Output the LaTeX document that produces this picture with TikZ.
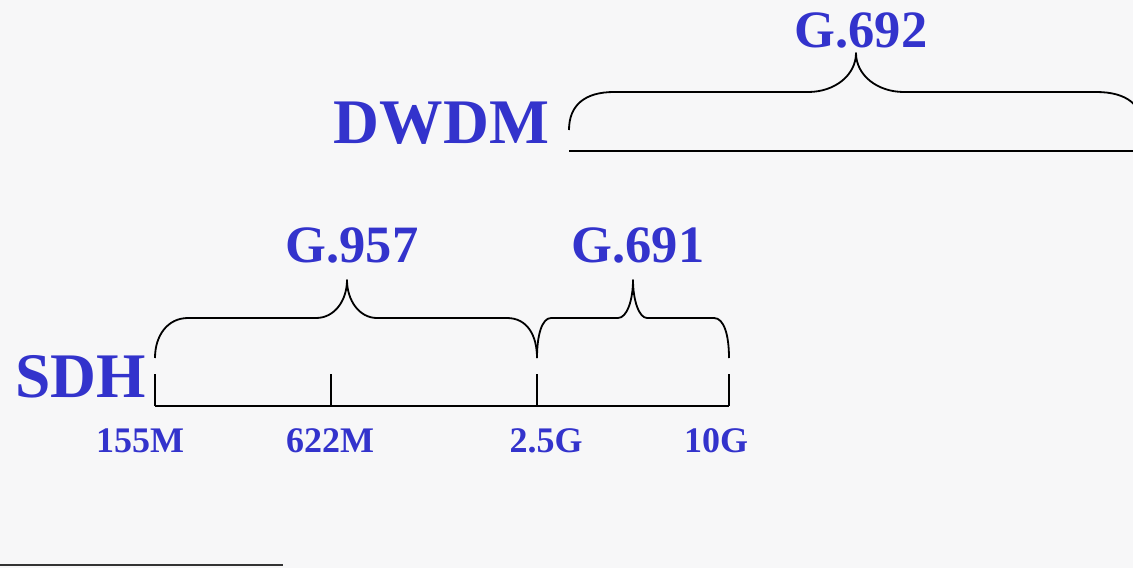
\documentclass[tikz,border=0pt]{standalone}
\usepackage{fontspec}
\setmainfont{Liberation Serif}
\definecolor{bg}{RGB}{247,247,248}
\definecolor{lblue}{RGB}{51,51,204}
\begin{document}
\begin{tikzpicture}[x=1pt,y=-1pt,
  big/.style={inner sep=0pt,anchor=base,text=lblue,font=\fontsize{63.5}{63.5}\selectfont\bfseries},
  std/.style={inner sep=0pt,anchor=base,text=lblue,font=\fontsize{52.5}{52.5}\selectfont\bfseries},
  tick/.style={inner sep=0pt,anchor=base,text=lblue,font=\fontsize{36}{36}\selectfont\bfseries},
  brace/.style={line width=1.8pt,black,line join=round},
  axis/.style={line width=1.8pt,black}]
\fill[bg] (0,0) rectangle (1133,568);
\useasboundingbox (0,0) rectangle (1133,568);
\clip (0,0) rectangle (1133,568);
% labels
\node[big] (dwdm) at (441.5,143) {DWDM};
\node[big] (sdh) at (80.5,397) {SDH};
\node[std] (g692) at (861,47) {G.692};
\node[std] (g957) at (352,262) {G.957};
\node[std] (g691) at (638,262) {G.691};
\node[tick] (t155) at (140,452) {155M};
\node[tick] (t622) at (330,452) {622M};
\node[tick] (t25) at (546,452) {2.5G};
\node[tick] (t10) at (716,452) {10G};
% DWDM brace and line
\coordinate (dl) at (569,130);
\coordinate (dtip) at (856,53);
\coordinate (dr) at (1143,130);
\draw[brace] (dl) .. controls (569,105) and (585,92) .. (614,92) -- (808,92)
  .. controls (835,92) and (856,75) .. (dtip)
  .. controls (856,75) and (877,92) .. (904,92) -- (1096,92)
  .. controls (1127,92) and (1143,105) .. (dr);
\coordinate (dline1) at (569,151);
\coordinate (dline2) at (1140,151);
\draw[axis] (dline1) -- (dline2);
% SDH braces
\coordinate (b1) at (155,358);
\coordinate (b2) at (537,358);
\coordinate (b3) at (729,358);
\coordinate (tip1) at (347,280);
\coordinate (tip2) at (633,280);
\draw[brace] (b1) .. controls (155,335) and (168,318) .. (188,318) -- (316,318)
  .. controls (335,318) and (347,300) .. (tip1)
  .. controls (347,300) and (359,318) .. (377,318) -- (507,318)
  .. controls (527,318) and (537,335) .. (b2);
\draw[brace] (b2) .. controls (537,335) and (542,318) .. (551,318) -- (618,318)
  .. controls (627,318) and (633,300) .. (tip2)
  .. controls (633,300) and (639,318) .. (647,318) -- (714,318)
  .. controls (724,318) and (729,335) .. (b3);
% axis
\coordinate (a1) at (155,406);
\coordinate (a2) at (331,406);
\coordinate (a3) at (537,406);
\coordinate (a4) at (729,406);
\draw[axis] (a1) -- (a4);
\foreach \c in {a1,a2,a3,a4} \draw[axis] (\c) -- ++(0,-32);
% bottom-left line
\coordinate (bl1) at (0,565);
\coordinate (bl2) at (283,565);
\draw[line width=2pt,black!80] (bl1) -- (bl2);
\end{tikzpicture}
\end{document}
